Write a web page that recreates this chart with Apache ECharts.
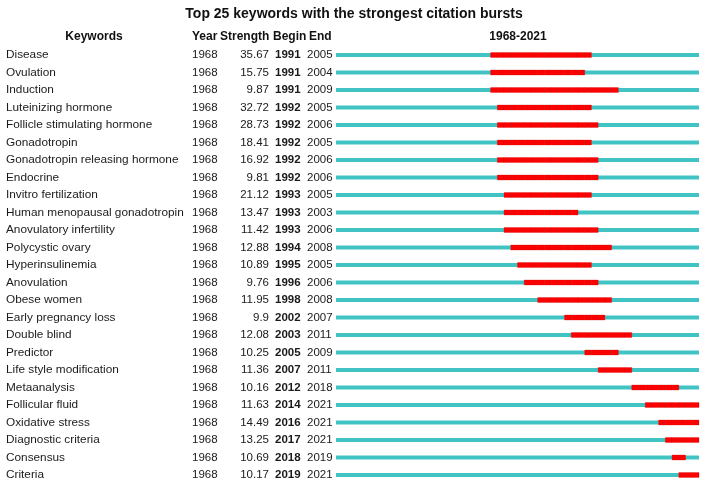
<!DOCTYPE html>
<html>
<head>
<meta charset="utf-8">
<script src="https://cdn.jsdelivr.net/npm/echarts@6/dist/echarts.min.js"></script>
<style>html,body{margin:0;padding:0;background:#fff}#c{width:708px;height:484px}</style>
</head>
<body>
<div id="c"></div>
<script>
var keywords = ["Disease","Ovulation","Induction","Luteinizing hormone","Follicle stimulating hormone","Gonadotropin","Gonadotropin releasing hormone","Endocrine","Invitro fertilization","Human menopausal gonadotropin","Anovulatory infertility","Polycystic ovary","Hyperinsulinemia","Anovulation","Obese women","Early pregnancy loss","Double blind","Predictor","Life style modification","Metaanalysis","Follicular fluid","Oxidative stress","Diagnostic criteria","Consensus","Criteria"];
var years = [1968,1968,1968,1968,1968,1968,1968,1968,1968,1968,1968,1968,1968,1968,1968,1968,1968,1968,1968,1968,1968,1968,1968,1968,1968];
var strength = ["35.67","15.75","9.87","32.72","28.73","18.41","16.92","9.81","21.12","13.47","11.42","12.88","10.89","9.76","11.95","9.9","12.08","10.25","11.36","10.16","11.63","14.49","13.25","10.69","10.17"];
var begins = [1991,1991,1991,1992,1992,1992,1992,1992,1993,1993,1993,1994,1995,1996,1998,2002,2003,2005,2007,2012,2014,2016,2017,2018,2019];
var ends = [2005,2004,2009,2005,2006,2005,2006,2006,2005,2003,2006,2008,2005,2006,2008,2007,2011,2009,2011,2018,2021,2021,2021,2019,2021];
var headers = ["Keywords","Year","Strength","Begin","End"];
var rangeStart = 1968, rangeEnd = 2021;

var FONT = '"Liberation Sans", Arial, Helvetica, sans-serif';
var idx = keywords.map(function(_, i){ return i; });

function labelAxis(arr, margin, align, bold, size) {
  return {
    type: 'category', data: idx, inverse: true, position: 'left', gridIndex: 0,
    axisLine: {show:false}, axisTick: {show:false}, splitLine: {show:false},
    axisLabel: {
      show: true, interval: 0, margin: margin, align: align,
      fontFamily: FONT, fontSize: size, color: '#1a1a1a', fontWeight: bold ? 'bold' : 'normal',
      formatter: function(v, i){ return String(arr[i]); }
    }
  };
}

var timeline = idx.map(function(i){ return [rangeStart, rangeEnd + 1, i]; });
var bursts = idx.map(function(i){ return [begins[i], ends[i] + 1, i]; });

function teal(params, api) {
  var p0 = api.coord([api.value(0), api.value(2)]);
  var p1 = api.coord([api.value(1), api.value(2)]);
  return {type: 'rect', shape: {x: p0[0], y: p0[1] - 2, width: p1[0] - p0[0], height: 4}, style: {fill: '#42c3c3'}};
}
function red(params, api) {
  var b = api.value(0), e = api.value(1), r = api.value(2);
  var children = [];
  for (var y = b; y < e; y++) {
    var q0 = api.coord([y, r]), q1 = api.coord([y + 1, r]);
    children.push({type: 'rect', shape: {x: q0[0], y: q0[1] - 2.5, width: q1[0] - q0[0], height: 5},
      style: {fill: '#ff0000', stroke: 'rgba(200,0,0,0.55)', lineWidth: 0.5}});
  }
  return {type: 'group', children: children};
}

var hs = {fontFamily: FONT, fontSize: 12, fontWeight: 'bold', color: '#111'};
var chart = echarts.init(document.getElementById('c'), null, {renderer: 'canvas'});
chart.setOption({
  animation: false,
  title: [
    {text: 'Top 25 keywords with the strongest citation bursts', left: 354, top: 7, padding: 0, textAlign: 'center',
     textStyle: {fontFamily: FONT, fontSize: 14, fontWeight: 'bold', color: '#111'}},
    {text: headers[0], left: 94, top: 31, padding: 0, textAlign: 'center', textStyle: hs},
    {text: headers[1], left: 192, top: 31, padding: 0, textStyle: hs},
    {text: headers[2], left: 220, top: 31, padding: 0, textStyle: hs},
    {text: headers[3], left: 273, top: 31, padding: 0, textStyle: hs},
    {text: headers[4], left: 309, top: 31, padding: 0, textStyle: hs},
    {text: rangeStart + '-' + rangeEnd, left: 518, top: 31, padding: 0, textAlign: 'center', textStyle: hs}
  ],
  grid: {left: 336, right: 9, top: 46.25, height: 437.5, containLabel: false},
  xAxis: {type: 'value', min: rangeStart, max: rangeEnd + 1, show: false},
  yAxis: [
    labelAxis(keywords, 330, 'left', false, 11.8),
    labelAxis(years, 144, 'left', false, 11.5),
    labelAxis(strength, 67, 'right', false, 11.5),
    labelAxis(begins, 61, 'left', true, 11.5),
    labelAxis(ends, 29, 'left', false, 11.5)
  ],
  series: [
    {type: 'custom', yAxisIndex: 0, renderItem: teal, data: timeline, encode: {x: [0,1], y: 2}},
    {type: 'custom', yAxisIndex: 0, renderItem: red, data: bursts, encode: {x: [0,1], y: 2}}
  ]
});
</script>
</body>
</html>
